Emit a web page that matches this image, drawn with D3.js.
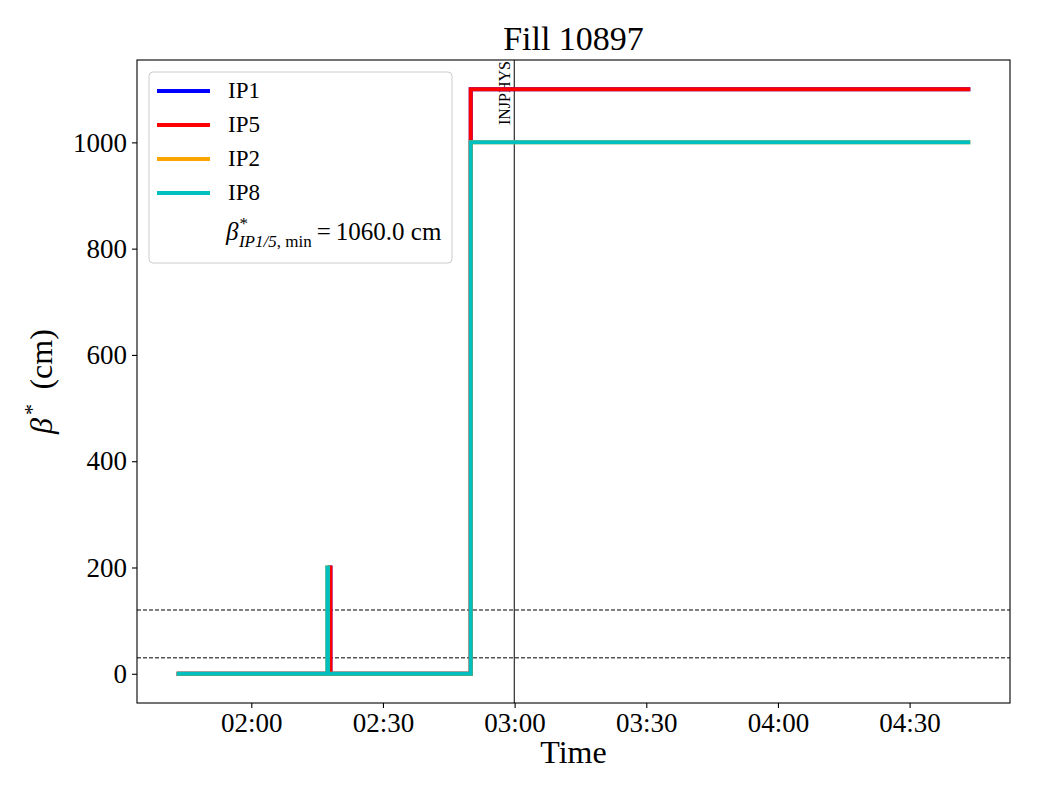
<!DOCTYPE html>
<meta charset="utf-8">
<body style="margin:0;background:#fff">
<style>
  svg { font-family: "Liberation Serif", "DejaVu Serif", serif; }
  .axis path, .axis line { stroke: #000; stroke-width: 1.1; }
  .axis text { font-size: 27px; fill: #000; font-family: "Liberation Serif", serif; }
</style>
<div id="chart"></div>
<script src="https://d3js.org/d3.v7.min.js"></script>
<script>
// data
var names = ["IP1", "IP5", "IP2", "IP8"];
var colors = ["#0000ff", "#ff0000", "#ffa500", "#00bfbf"];
var times15 = ["01:43:00", "02:17:55", "02:18:02", "02:50:00", "04:43:50"];
var times28 = ["01:43:00", "02:17:20", "02:17:27", "02:50:00", "04:43:50"];
var ip1 = [0, 200, 0, 1100, 1100];
var ip5 = [0, 200, 0, 1100, 1100];
var ip2 = [0, 200, 0, 1000, 1000];
var ip8 = [0, 200, 0, 1000, 1000];
var hlines = [120, 30];
var injphysTime = "02:59:55";
var yTicks = [0, 200, 400, 600, 800, 1000];
var xTicks = ["02:00", "02:30", "03:00", "03:30", "04:00", "04:30"];
var betaMin = "1060.0";

var parse = d3.utcParse("%H:%M:%S");
var parseHM = d3.utcParse("%H:%M");

var series = [
  {name: "IP1", t: times15, v: ip1},
  {name: "IP5", t: times15, v: ip5},
  {name: "IP2", t: times28, v: ip2},
  {name: "IP8", t: times28, v: ip8}
].map(function(s, i) {
  return {name: s.name, color: colors[i], pts: s.t.map(function(t, j) { return {t: parse(t), v: s.v[j]}; })};
});

var margin = {top: 60, right: 30, bottom: 97, left: 137},
  width = 1040 - margin.left - margin.right,
  height = 800 - margin.top - margin.bottom;

var allPts = series.flatMap(function(s) { return s.pts; });
var tExt = d3.extent(allPts, function(d) { return d.t; });
var tPad = (tExt[1] - tExt[0]) * 0.05;
var vMax = d3.max(allPts, function(d) { return d.v; });

var x = d3.scaleUtc()
  .domain([new Date(+tExt[0] - tPad), new Date(+tExt[1] + tPad)])
  .range([0, width]);
var y = d3.scaleLinear()
  .domain([-vMax * 0.05, vMax * 1.05])
  .range([height, 0]);

var svg = d3.select("#chart").append("svg")
  .attr("width", 1040)
  .attr("height", 800)
  .append("g")
  .attr("transform", "translate(" + margin.left + "," + margin.top + ")");

svg.append("defs").append("clipPath").attr("id", "clip")
  .append("rect").attr("width", width).attr("height", height);

// x axis
var xa = svg.append("g")
  .attr("class", "axis")
  .attr("transform", "translate(0," + height + ")")
  .call(d3.axisBottom(x)
    .tickValues(xTicks.map(function(d) { return parseHM(d); }))
    .tickFormat(d3.utcFormat("%H:%M"))
    .tickSize(5).tickPadding(5));
xa.select(".domain").remove();

// y axis
var ya = svg.append("g")
  .attr("class", "axis")
  .call(d3.axisLeft(y).tickValues(yTicks).tickFormat(d3.format("d")).tickSize(5).tickPadding(5));
ya.select(".domain").remove();

// frame
svg.append("rect")
  .attr("width", width).attr("height", height)
  .attr("fill", "none").attr("stroke", "#000").attr("stroke-width", 1.1);

var plot = svg.append("g").attr("clip-path", "url(#clip)");

// reference lines
plot.selectAll(".hline").data(hlines).enter().append("line")
  .attr("x1", 0).attr("x2", width)
  .attr("y1", function(d) { return y(d); }).attr("y2", function(d) { return y(d); })
  .attr("stroke", "#000").attr("stroke-width", 1).attr("stroke-dasharray", "4,2");

var tInj = parse(injphysTime);
plot.append("line")
  .attr("x1", x(tInj)).attr("x2", x(tInj))
  .attr("y1", 0).attr("y2", height)
  .attr("stroke", "#000").attr("stroke-width", 1);

plot.append("text")
  .attr("transform", "translate(" + (x(tInj) - 4) + ",1) rotate(-90)")
  .attr("text-anchor", "end")
  .style("font-size", "16px")
  .text("INJPHYS");

// step lines
var line = d3.line()
  .curve(d3.curveStepAfter)
  .x(function(d) { return x(d.t); })
  .y(function(d) { return y(d.v); });

plot.selectAll(".ser").data(series).enter().append("path")
  .attr("d", function(d) { return line(d.pts); })
  .attr("fill", "none")
  .attr("stroke", function(d) { return d.color; })
  .attr("stroke-width", 4)
  .attr("stroke-linejoin", "miter");

// title and labels
svg.append("text")
  .attr("x", width / 2).attr("y", -10)
  .attr("text-anchor", "middle")
  .style("font-size", "34px")
  .text("Fill 10897");

svg.append("text")
  .attr("x", width / 2).attr("y", height + 60)
  .attr("text-anchor", "middle")
  .style("font-size", "32px")
  .text("Time");

var yl = svg.append("text")
  .attr("transform", "translate(-85," + (height / 2) + ") rotate(-90)")
  .attr("text-anchor", "middle")
  .style("font-size", "32px");
yl.append("tspan").style("font-style", "italic").text("β");
yl.append("tspan").attr("dx", 3).attr("dy", -13).style("font-size", "22px").text("*");
yl.append("tspan").attr("dy", 13).text("\u2009 (cm)");

// legend
var lg = svg.append("g").attr("transform", "translate(12,12)");
lg.append("rect")
  .attr("width", 303).attr("height", 191)
  .attr("rx", 4)
  .attr("fill", "#fff").attr("stroke", "#cccccc").attr("stroke-width", 1);

series.forEach(function(s, i) {
  var yy = 19 + i * 34;
  lg.append("line")
    .attr("x1", 8).attr("x2", 61).attr("y1", yy).attr("y2", yy)
    .attr("stroke", s.color).attr("stroke-width", 4);
  lg.append("text")
    .attr("x", 79).attr("y", yy + 7)
    .style("font-size", "23px")
    .text(s.name);
});

var bt = lg.append("text").attr("x", 77).attr("y", 168).style("font-size", "25px");
bt.append("tspan").style("font-style", "italic").text("β");
bt.append("tspan").attr("dx", 1).attr("dy", -11).style("font-size", "17px").text("*");
bt.append("tspan").attr("dx", -9).attr("dy", 18).style("font-size", "17px").style("font-style", "italic").text("IP1/5");
bt.append("tspan").style("font-size", "17px").text(", min");
bt.append("tspan").attr("dy", -7).text("\u2009=\u20091060.0 cm".replace("1060.0", betaMin));
</script>
</body>
